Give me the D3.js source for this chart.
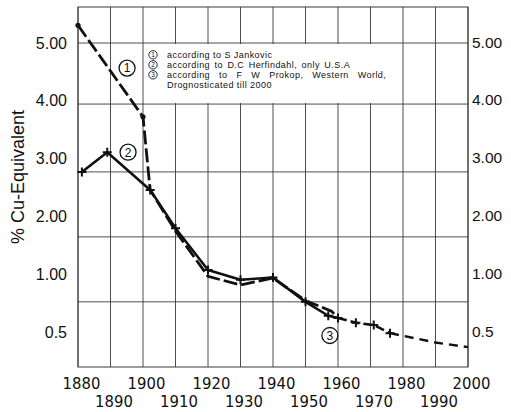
<!DOCTYPE html>
<html><head><meta charset="utf-8">
<script src="https://cdn.jsdelivr.net/npm/d3@7"></script>
<style>
html,body{margin:0;padding:0;background:#fff;}
svg{display:block;}
</style></head>
<body>
<svg id="chart" width="511" height="412"></svg>
<script>
// ---- data ----
const yearsJankovic = [1880, 1900, 1902.2, 1910, 1920, 1930, 1940, 1950, 1958, 1960];
const jankovic      = [5.31, 3.71, 2.45, 1.74, 0.98, 0.905, 0.965, 0.77, 0.68, 0.62];

const yearsHerfindahl = [1881.2, 1889, 1902.2, 1910, 1920, 1930, 1940, 1950, 1957, 1960];
const herfindahl      = [2.76, 3.1, 2.45, 1.79, 1.07, 0.95, 0.97, 0.76, 0.64, 0.62];

const yearsProkop = [1960, 1965.5, 1971, 1976];
const prokop      = [0.62, 0.58, 0.56, 0.49];

const yearsForecast = [1976, 1990, 2000];
const forecast      = [0.49, 0.41, 0.37];

const yTickValues = [0.5, 1, 2, 3, 4, 5];
const yTickLabels = ["0.5", "1.00", "2.00", "3.00", "4.00", "5.00"];
const xTicksTop = [1880, 1900, 1920, 1940, 1960, 1980, 2000];
const xTicksBottom = [1890, 1910, 1930, 1950, 1970, 1990];
const gridYears = d3.range(1880, 2001, 10);
const gridValues = [5, 3.93, 2.76, 1.64, 0.76];

const legendLines = [
  {num: "1", text: "according to S Jankovic"},
  {num: "2", text: "according to D.C Herfindahl, only U.S.A"},
  {num: "3", text: "according to F W Prokop, Western World,"},
  {num: "",  text: "Drognosticated till 2000"}
];
const annotations = [
  {num: "1", year: 1895.1, value: 4.56},
  {num: "2", year: 1895.4, value: 3.1},
  {num: "3", year: 1957.5, value: 0.47}
];

// ---- scales ----
const x = d3.scaleLinear().domain([1880, 2000]).range([78, 468]);
const y = d3.scaleLinear()
  .domain([0.2, 0.5, 1, 2, 3, 4, 5, 5.63])
  .range([367, 332, 274, 216, 158, 100, 43, 7]);

const svg = d3.select("#chart");
const ink = "#111";
const gridCol = "#3a3a3a";
const X0 = x(1880), X1 = x(2000), Y0 = y(0.2), Y1 = y(5.63);

// ---- grid ----
const grid = svg.append("g");
grid.selectAll("line.v").data(gridYears).join("line")
  .attr("x1", d => x(d)).attr("x2", d => x(d))
  .attr("y1", Y1).attr("y2", Y0)
  .attr("stroke", gridCol).attr("stroke-width", 0.9);
grid.selectAll("line.h").data(gridValues).join("line")
  .attr("x1", X0).attr("x2", X1)
  .attr("y1", d => y(d)).attr("y2", d => y(d))
  .attr("stroke", gridCol).attr("stroke-width", 0.9);

// legend background (hides grid inside)
svg.append("rect")
  .attr("x", x(1900) + 1).attr("y", y(5) + 1)
  .attr("width", x(1980) - x(1900) - 2)
  .attr("height", y(3.93) - y(5) - 2)
  .attr("fill", "#fff");

// frame
svg.append("rect").attr("x", X0).attr("y", Y1)
  .attr("width", X1 - X0).attr("height", Y0 - Y1)
  .attr("fill", "none").attr("stroke", gridCol).attr("stroke-width", 1);

// ---- axes ----
const yFmt = d => yTickLabels[yTickValues.indexOf(d)];
const left = svg.append("g").attr("transform", `translate(${X0},0)`)
  .call(d3.axisLeft(y).tickValues(yTickValues).tickFormat(yFmt).tickSize(0).tickPadding(11));
left.select(".domain").remove();
left.selectAll("text").attr("font-family", "'Liberation Sans', Arial, sans-serif")
  .attr("font-size", 16).attr("fill", ink);

const right = svg.append("g").attr("transform", `translate(${X1},0)`)
  .call(d3.axisRight(y).tickValues(yTickValues).tickFormat(yFmt).tickSize(0).tickPadding(4));
right.select(".domain").remove();
right.selectAll("text").attr("font-family", "'Liberation Sans', Arial, sans-serif")
  .attr("font-size", 15.5).attr("fill", ink);

function yearAxis(ticks, baseline) {
  const g = svg.append("g").attr("transform", `translate(0,${Y0})`)
    .call(d3.axisBottom(x).tickValues(ticks).tickFormat(d3.format("d")).tickSize(0));
  g.select(".domain").remove();
  g.selectAll("text")
    .attr("font-family", "'Liberation Sans Narrow', 'Arial Narrow', 'DejaVu Sans Condensed', sans-serif")
    .attr("font-size", 16.5).attr("fill", ink)
    .attr("x", 3).attr("y", baseline - Y0).attr("dy", 0);
}
yearAxis(xTicksTop, 389);
yearAxis(xTicksBottom, 407);

// y title
svg.append("text")
  .attr("transform", `translate(24,177) rotate(-90)`)
  .attr("text-anchor", "middle")
  .attr("font-family", "'Liberation Sans', Arial, sans-serif")
  .attr("font-size", 18).attr("fill", ink)
  .text("% Cu-Equivalent");

// ---- data lines ----
const zip = (xs, ys) => xs.map((d, i) => [d, ys[i]]);
const line = d3.line().x(d => x(d[0])).y(d => y(d[1]));
const dJ = zip(yearsJankovic, jankovic);
const dH = zip(yearsHerfindahl, herfindahl);
const dP = zip(yearsProkop, prokop);
const dF = zip(yearsForecast, forecast);

svg.append("path").attr("d", line(dH)).attr("fill", "none")
  .attr("stroke", ink).attr("stroke-width", 2.6).attr("stroke-linejoin", "round");
svg.append("path").attr("d", line(dJ)).attr("fill", "none")
  .attr("stroke", ink).attr("stroke-width", 2.8).attr("stroke-dasharray", "14,4");
svg.append("path").attr("d", line(dP)).attr("fill", "none")
  .attr("stroke", ink).attr("stroke-width", 2.6).attr("stroke-dasharray", "9,4");
svg.append("path").attr("d", line(dF)).attr("fill", "none")
  .attr("stroke", ink).attr("stroke-width", 2.4).attr("stroke-dasharray", "9,6");

// markers
svg.selectAll("circle.dotJ").data(dJ.slice(0, 2)).join("circle")
  .attr("cx", d => x(d[0])).attr("cy", d => y(d[1])).attr("r", 2.6).attr("fill", ink);
const cross = "M-4.5,0H4.5M0,-4.5V4.5";
svg.selectAll("path.cross").data(dH.slice(0, 9).concat(dP)).join("path")
  .attr("d", cross)
  .attr("transform", d => `translate(${x(d[0])},${y(d[1])})`)
  .attr("stroke", ink).attr("stroke-width", 2).attr("fill", "none");

// circled annotations
const ann = svg.selectAll("g.ann").data(annotations).join("g")
  .attr("transform", d => `translate(${x(d.year)},${y(d.value)})`);
ann.append("circle").attr("r", 8).attr("fill", "#fff").attr("stroke", ink).attr("stroke-width", 1.3);
ann.append("text").attr("text-anchor", "middle").attr("dy", "0.36em")
  .attr("font-family", "'Liberation Sans', Arial, sans-serif").attr("font-size", 12)
  .attr("fill", ink).text(d => d.num);

// ---- legend ----
const lg = svg.append("g");
legendLines.forEach((l, i) => {
  const by = 58 + i * 10;
  if (l.num) {
    lg.append("circle").attr("cx", 153).attr("cy", by - 3.2).attr("r", 4.2)
      .attr("fill", "none").attr("stroke", ink).attr("stroke-width", 0.9);
    lg.append("text").attr("x", 153).attr("y", by - 0.8).attr("text-anchor", "middle")
      .attr("font-family", "'Liberation Sans', Arial, sans-serif").attr("font-size", 6.5)
      .attr("fill", ink).text(l.num);
  }
  lg.append("text").attr("x", 167).attr("y", by)
    .attr("font-family", "'Liberation Sans', Arial, sans-serif").attr("font-size", 9)
    .attr("letter-spacing", 0.45)
    .attr("word-spacing", i === 2 ? 6 : (i === 1 ? 1.5 : 0))
    .attr("fill", ink).text(l.text);
});
</script>
</body></html>
